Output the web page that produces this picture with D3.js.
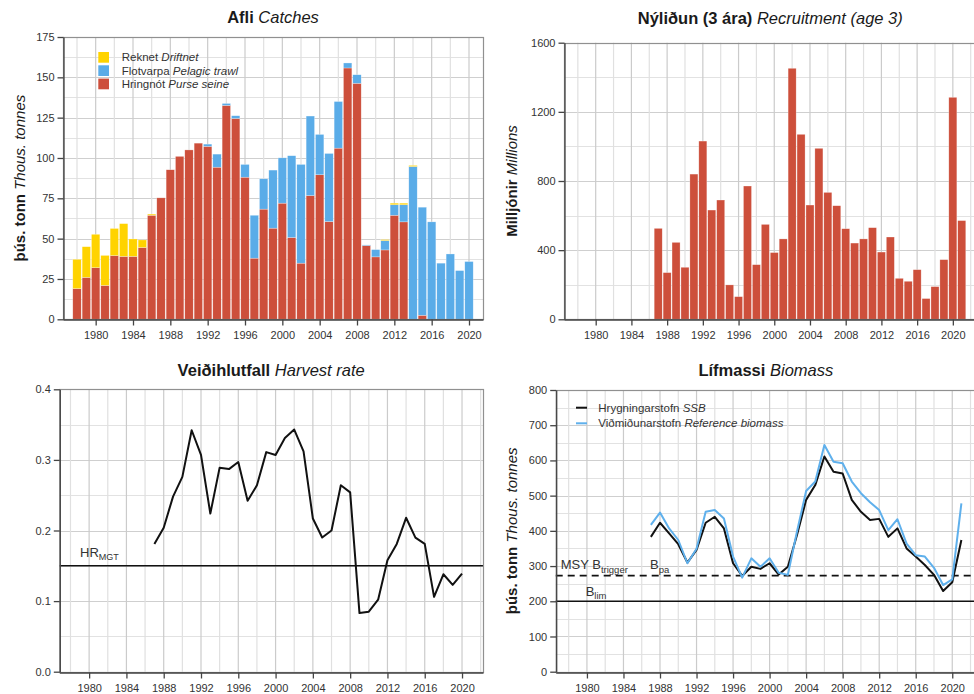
<!DOCTYPE html>
<html><head><meta charset="utf-8">
<script src="https://cdn.jsdelivr.net/npm/d3@7"></script>
<style>
body{margin:0;background:#fff;}
svg{display:block;font-family:"Liberation Sans",Arial,Helvetica,sans-serif;}
</style>
</head><body>
<svg id="c" width="974" height="694"></svg>
<script>
// ---------------- DATA ----------------
const catchYears = [1978,1979,1980,1981,1982,1983,1984,1985,1986,1987,1988,1989,1990,1991,1992,1993,1994,1995,1996,1997,1998,1999,2000,2001,2002,2003,2004,2005,2006,2007,2008,2009,2010,2011,2012,2013,2014,2015,2016,2017,2018,2019,2020];
const purseSeine = [19,26,32,21,39.5,39,39,44.5,64.5,75.3,92.7,101,105,109.2,107.2,94.3,132.6,124.5,88.1,37.9,68.3,56.5,72,50.7,34.8,76.7,89.6,60.6,106.1,155.8,146.3,45.7,38.7,43,64.5,60.4,0,2.5,0,0,0,0,0];
const pelagicTrawl = [0,0,0,0,0,0,0,0,0,0,0,0,0,0,1.4,8.1,1.2,1.7,7.9,26.6,18.8,36,28.1,50.7,61.2,49.3,25,42.2,28.9,3.1,5.3,0.4,4.5,5.8,6.5,10.6,94.7,67,60.4,34.8,40.5,30.2,35.8];
const driftnet = [18.2,19,20.7,18.6,16.8,20.3,10.8,4.7,0.7,0,0,0,0,0,0,0,0,0,0,0,0,0,0,0,0,0,0,0,0,0,0,0,0,0.6,1,1,0.7,0,0,0,0,0,0];

const recruitYears = [1987,1988,1989,1990,1991,1992,1993,1994,1995,1996,1997,1998,1999,2000,2001,2002,2003,2004,2005,2006,2007,2008,2009,2010,2011,2012,2013,2014,2015,2016,2017,2018,2019,2020,2021];
const recruitment = [526,270,445,301,840,1031,632,690,199,131,771,316,549,386,465,1452,1070,661,989,734,657,524,441,465,530,389,476,237,220,287,120,189,345,1284,571];

const hrYears = [1987,1988,1989,1990,1991,1992,1993,1994,1995,1996,1997,1998,1999,2000,2001,2002,2003,2004,2005,2006,2007,2008,2009,2010,2011,2012,2013,2014,2015,2016,2017,2018,2019,2020];
const harvestRate = [0.181,0.204,0.248,0.276,0.342,0.307,0.224,0.289,0.287,0.297,0.242,0.264,0.311,0.307,0.331,0.343,0.312,0.217,0.190,0.200,0.264,0.254,0.083,0.085,0.102,0.158,0.181,0.218,0.190,0.181,0.106,0.138,0.123,0.139];
const hrMgt = 0.15;

const bioYears = [1987,1988,1989,1990,1991,1992,1993,1994,1995,1996,1997,1998,1999,2000,2001,2002,2003,2004,2005,2006,2007,2008,2009,2010,2011,2012,2013,2014,2015,2016,2017,2018,2019,2020,2021];
const ssb = [383,423,393,362,310,346,423,440,407,308,272,298,292,308,276,298,388,488,530,611,568,563,488,454,431,434,383,407,350,327,303,275,229,254,374];
const refBiomass = [417,452,407,374,308,349,454,459,435,327,267,322,298,322,281,275,398,513,540,644,596,592,540,507,481,459,402,433,364,331,327,295,246,262,478];
const bTrigger = 273;
const bLim = 200;

const yearTicks = [1980,1984,1988,1992,1996,2000,2004,2008,2012,2016,2020];
const catchTicks = [0,25,50,75,100,125,150,175];
const recruitTicks = [0,400,800,1200,1600];
const hrTicks = [0,0.1,0.2,0.3,0.4];
const bioTicks = [0,100,200,300,400,500,600,700,800];

// ---------------- STYLE ----------------
const colPurse = "#cd4f3b", colTrawl = "#5aace8", colDrift = "#ffd300";
const colBlue = "#5fb0ec";
const svg = d3.select("#c");

function panel(cfg){
  const g = svg.append("g");
  const x = d3.scaleLinear().domain(cfg.xDomain).range([cfg.left, cfg.right]);
  const y = d3.scaleLinear().domain(cfg.yDomain).range([cfg.bottom, cfg.top]);
  const gridYears = [];
  for (let yr = Math.ceil(cfg.xDomain[0]/2)*2; yr <= cfg.xDomain[1]; yr += 2) gridYears.push(yr);
  const gridVals = [];
  for (let v = cfg.yDomain[0]; v <= cfg.yDomain[1] + 1e-9; v += cfg.gridStep) gridVals.push(+v.toFixed(6));
  const isMajorY = v => cfg.yTicks.some(t => Math.abs(t - v) < 1e-9);
  g.append("g").selectAll("line").data(gridVals).join("line")
    .attr("x1", cfg.left).attr("x2", cfg.right)
    .attr("y1", d => Math.round(y(d)) + 0.5).attr("y2", d => Math.round(y(d)) + 0.5)
    .attr("stroke", d => isMajorY(d) ? "#cfcfcf" : "#e2e2e2").attr("stroke-width", 1.2);
  g.append("g").selectAll("line").data(gridYears).join("line")
    .attr("x1", d => x(d)).attr("x2", d => x(d))
    .attr("y1", cfg.top).attr("y2", cfg.bottom)
    .attr("stroke", d => yearTicks.includes(d) ? "#cbcbcb" : "#e0e0e0").attr("stroke-width", 1.2);
  const t = svg.append("text").attr("x", (cfg.left + cfg.right)/2).attr("y", cfg.titleY)
    .attr("text-anchor", "middle").attr("font-size", 16.5).attr("fill", "#1a1a1a");
  t.append("tspan").attr("font-weight", "bold").text(cfg.title[0]);
  t.append("tspan").attr("font-style", "italic").text(" " + cfg.title[1]);
  if (cfg.ylab) {
    const cy = (cfg.top + cfg.bottom)/2;
    const yl = svg.append("text").attr("transform", `translate(${cfg.ylabX},${cy}) rotate(-90)`)
      .attr("text-anchor", "middle").attr("font-size", 15).attr("fill", "#1a1a1a");
    yl.append("tspan").attr("font-weight", "bold").text(cfg.ylab[0]);
    yl.append("tspan").attr("font-style", "italic").text(" " + cfg.ylab[1]);
  }
  return {g, x, y, cfg};
}

function finish(p){
  const {x, y, cfg} = p;
  const g = svg.append("g");
  g.append("rect").attr("x", cfg.left + 0.5).attr("y", Math.round(cfg.top) + 0.5)
    .attr("width", cfg.right - cfg.left).attr("height", Math.round(cfg.bottom) - Math.round(cfg.top))
    .attr("fill", "none").attr("stroke", "#909090").attr("stroke-width", 1.2);
  const ya = g.append("g").attr("transform", `translate(${cfg.left + 0.5},0)`)
    .call(d3.axisLeft(y).tickValues(cfg.yTicks).tickSize(6).tickSizeOuter(0).tickPadding(3)
      .tickFormat(d3.format(cfg.yFormat || "d")));
  const xa = g.append("g").attr("transform", `translate(0,${Math.round(cfg.bottom) + 0.5})`)
    .call(d3.axisBottom(x).tickValues(yearTicks).tickSize(6).tickSizeOuter(0).tickPadding(3)
      .tickFormat(d3.format("d")));
  [ya, xa].forEach(a => {
    a.select(".domain").attr("stroke", "#444").attr("stroke-width", 1.3);
    a.selectAll(".tick line").attr("stroke", "#444").attr("stroke-width", 1.3);
    a.selectAll(".tick text").attr("font-size", 11).attr("fill", "#333")
      .attr("font-family", "Liberation Sans, Arial, sans-serif");
  });
  xa.selectAll(".tick text").attr("dy", "0.95em");
}

// ---------------- PANEL 1: Catches ----------------
const p1 = panel({left: 63, right: 483, top: 37, bottom: 319.3, xDomain: [1976.5, 2021.5], yDomain: [0, 175],
  gridStep: 12.5, yTicks: catchTicks, titleY: 23, title: ["Afli", "Catches"],
  ylab: ["þús. tonn", "Thous. tonnes"], ylabX: 25});
const catchRows = catchYears.map((yr, i) => ({year: yr, purse: purseSeine[i], trawl: pelagicTrawl[i], drift: driftnet[i]}));
const stack = d3.stack().keys(["purse", "trawl", "drift"])(catchRows);
const catchCols = {purse: colPurse, trawl: colTrawl, drift: colDrift};
const bw1 = (p1.x(1) - p1.x(0)) * 0.9;
p1.g.append("g").selectAll("g").data(stack).join("g").attr("fill", d => catchCols[d.key])
  .selectAll("rect").data(d => d).join("rect")
  .attr("x", d => p1.x(d.data.year) - bw1/2).attr("width", bw1)
  .attr("y", d => p1.y(d[1])).attr("height", d => Math.max(0, p1.y(d[0]) - p1.y(d[1])))
  .attr("stroke", "#fff").attr("stroke-opacity", 0.55).attr("stroke-width", 0.5);
const leg1 = [["Reknet", "Driftnet", colDrift], ["Flotvarpa", "Pelagic trawl", colTrawl], ["Hringnót", "Purse seine", colPurse]];
leg1.forEach((d, i) => {
  const yy = 52 + i * 13.3;
  p1.g.append("rect").attr("x", 98.3).attr("y", yy).attr("width", 10.7).attr("height", 10.7).attr("fill", d[2]);
  const tx = p1.g.append("text").attr("x", 121.7).attr("y", yy + 9.3).attr("font-size", 11.5).attr("fill", "#333");
  tx.append("tspan").text(d[0] + " ");
  tx.append("tspan").attr("font-style", "italic").text(d[1]);
});
finish(p1);

// ---------------- PANEL 2: Recruitment ----------------
const p2 = panel({left: 564, right: 976.5, top: 42.7, bottom: 319.3, xDomain: [1976.45, 2022.65], yDomain: [0, 1600],
  gridStep: 200, yTicks: recruitTicks, titleY: 23.5, title: ["Nýliðun (3 ára)", "Recruitment (age 3)"],
  ylab: ["Milljónir", "Millions"], ylabX: 517});
const bw2 = (p2.x(1) - p2.x(0)) * 0.9;
p2.g.append("g").selectAll("rect").data(recruitYears).join("rect")
  .attr("x", d => p2.x(d) - bw2/2).attr("width", bw2)
  .attr("y", (d, i) => p2.y(recruitment[i])).attr("height", (d, i) => p2.y(0) - p2.y(recruitment[i]))
  .attr("fill", colPurse).attr("stroke", "#fff").attr("stroke-opacity", 0.55).attr("stroke-width", 0.5);
finish(p2);

// ---------------- PANEL 3: Harvest rate ----------------
const p3 = panel({left: 59.3, right: 483, top: 389.3, bottom: 671.7, xDomain: [1976.8, 2022.25], yDomain: [0, 0.4],
  gridStep: 0.05, yTicks: hrTicks, yFormat: ".1f", titleY: 375.5, title: ["Veiðihlutfall", "Harvest rate"]});
p3.g.append("line").attr("x1", p3.cfg.left).attr("x2", p3.cfg.right)
  .attr("y1", p3.y(hrMgt)).attr("y2", p3.y(hrMgt)).attr("stroke", "#111").attr("stroke-width", 1.6);
const hrLab = p3.g.append("text").attr("x", 80).attr("y", 556.5).attr("font-size", 13).attr("fill", "#333");
hrLab.append("tspan").text("HR");
hrLab.append("tspan").attr("font-size", 9).attr("dy", 3.5).text("MGT");
p3.g.append("path").datum(hrYears.map((yr, i) => [yr, harvestRate[i]]))
  .attr("d", d3.line().x(d => p3.x(d[0])).y(d => p3.y(d[1])))
  .attr("fill", "none").attr("stroke", "#111").attr("stroke-width", 2).attr("stroke-linejoin", "round");
finish(p3);

// ---------------- PANEL 4: Biomass ----------------
const p4 = panel({left: 555.7, right: 976, top: 390, bottom: 671.7, xDomain: [1976.58, 2022.6], yDomain: [0, 800],
  gridStep: 50, yTicks: bioTicks, titleY: 376, title: ["Lífmassi", "Biomass"],
  ylab: ["þús. tonn", "Thous. tonnes"], ylabX: 517});
p4.g.append("line").attr("x1", p4.cfg.left).attr("x2", p4.cfg.right)
  .attr("y1", p4.y(bTrigger)).attr("y2", p4.y(bTrigger)).attr("stroke", "#111").attr("stroke-width", 1.8)
  .attr("stroke-dasharray", "7,5");
p4.g.append("line").attr("x1", p4.cfg.left).attr("x2", p4.cfg.right)
  .attr("y1", p4.y(bLim)).attr("y2", p4.y(bLim)).attr("stroke", "#111").attr("stroke-width", 1.5);
function refLabel(xp, yp, main, sub){
  const t = p4.g.append("text").attr("x", xp).attr("y", yp).attr("font-size", 13).attr("fill", "#333");
  t.append("tspan").text(main);
  t.append("tspan").attr("font-size", 9.5).attr("dy", 3.5).text(sub);
}
refLabel(560.7, 569, "MSY B", "trigger");
refLabel(650, 569, "B", "pa");
refLabel(585.7, 595.7, "B", "lim");
const line4 = d3.line().x(d => p4.x(d[0])).y(d => p4.y(d[1]));
p4.g.append("path").datum(bioYears.map((yr, i) => [yr, ssb[i]])).attr("d", line4)
  .attr("fill", "none").attr("stroke", "#111").attr("stroke-width", 2).attr("stroke-linejoin", "round");
p4.g.append("path").datum(bioYears.map((yr, i) => [yr, refBiomass[i]])).attr("d", line4)
  .attr("fill", "none").attr("stroke", colBlue).attr("stroke-width", 2).attr("stroke-linejoin", "round");
const leg4 = [["Hrygningarstofn", "SSB", "#111"], ["Viðmiðunarstofn", "Reference biomass", colBlue]];
leg4.forEach((d, i) => {
  const yy = 407.7 + i * 15.6;
  p4.g.append("line").attr("x1", 576).attr("x2", 587).attr("y1", yy).attr("y2", yy)
    .attr("stroke", d[2]).attr("stroke-width", 2);
  const tx = p4.g.append("text").attr("x", 598.3).attr("y", yy + 3.8).attr("font-size", 11.5).attr("fill", "#333");
  tx.append("tspan").text(d[0] + " ");
  tx.append("tspan").attr("font-style", "italic").text(d[1]);
});
finish(p4);
</script>
</body></html>
